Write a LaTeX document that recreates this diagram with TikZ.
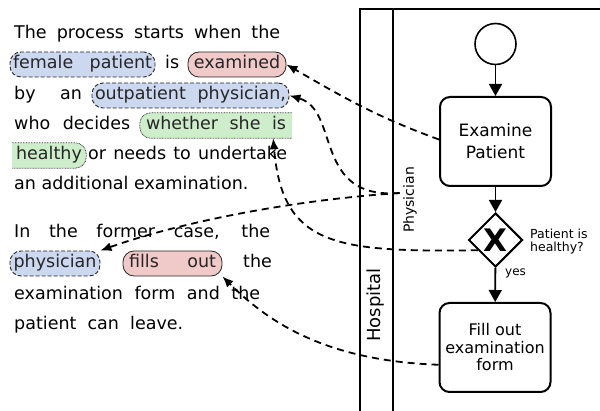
\documentclass[tikz,border=0pt]{standalone}
\usepackage{fontspec}
\setmainfont{DejaVu Sans}
\usepackage{tikz}
\usetikzlibrary{positioning}
\usetikzlibrary{shapes}
\usetikzlibrary{arrows.meta}
\definecolor{bleusurl}{HTML}{CCD8F0}
\definecolor{rougesurl}{HTML}{F0C9C9}
\definecolor{vertsurl}{HTML}{CDEDCB}
\pgfdeclarelayer{fond}
\pgfsetlayers{fond,main}

\begin{document}
\begin{tikzpicture}[x=1pt,y=1pt]
% définition des paramètres
\tikzstyle texteligne=[anchor=base west,inner sep=0pt,font=\fontsize{17.5}{21}\selectfont]
\tikzstyle surligne=[anchor=base,rounded corners=11pt,inner xsep=3pt,inner ysep=4pt,text height=13pt,text depth=4pt,font=\fontsize{17.5}{21}\selectfont,text=black!85]
\tikzstyle surlignebleu=[surligne,fill=bleusurl,draw=black!85,line width=0.9pt,dash pattern=on 4pt off 2pt]
\tikzstyle surlignerouge=[surligne,fill=rougesurl,draw=black!85,line width=0.8pt]
\tikzstyle surlignevert=[surligne]
\tikzstyle fondvert=[fill=vertsurl,draw=black!75,line width=0.8pt,dash pattern=on 0.8pt off 0.8pt,rounded corners=11pt]
\tikzstyle tache=[draw,line width=2pt,rounded corners=10pt,align=center,minimum width=111pt,minimum height=89pt]
\tikzstyle passerelle=[draw,diamond,aspect=1,line width=2pt,minimum size=54pt,inner sep=0pt]
\tikzstyle debut=[draw,circle,line width=1.6pt,minimum size=41pt,inner sep=0pt]
\tikzstyle flux=[line width=1.8pt,-{Triangle[length=12pt,width=13pt]}]
\tikzstyle lien=[line width=1.8pt,dash pattern=on 7pt off 5pt,-{Latex[length=11pt,width=9pt]}]
\tikzstyle couloir=[line width=1.8pt]
\newcommand{\margetexte}{14} % bord gauche du texte
\newcommand{\xcouloir}{360}  % bord gauche du pool
\newcommand{\xlane}{393}     % séparation du couloir

\useasboundingbox (0,0) rectangle (600,-411);

% le texte
\node[texteligne] (l1) at (\margetexte,-39) {\makebox[266pt][s]{The process starts when the}};
\node[surlignebleu,minimum width=145pt] (fp) at (82.5,-69) {\makebox[139pt][s]{female patient}};
\node[texteligne] (l2) at (165,-69) {is};
\node[surlignerouge,minimum width=98pt] (exam) at (237,-69) {examined};
\node[texteligne] (l3a) at (\margetexte,-100) {by};
\node[texteligne] (l3b) at (60,-100) {an};
\node[surlignebleu,minimum width=197pt] (op) at (190.5,-100) {\makebox[191pt][s]{outpatient physician,}};
\node[texteligne] (l4) at (\margetexte,-130) {\makebox[116pt][s]{who decides}};
\node[surlignevert,minimum width=152pt] (wh) at (216,-130) {\makebox[140pt][s]{whether she is}};
\node[surlignevert,minimum width=74pt] (hy) at (49,-160) {healthy};
\node[texteligne] (l5) at (88,-160) {\makebox[199pt][s]{or needs to undertake}};
\node[texteligne] (l6) at (\margetexte,-190) {an additional examination.};
\node[texteligne] (l7) at (\margetexte,-238) {\makebox[256pt][s]{In the former case, the}};
\node[surlignebleu,minimum width=90pt] (ph) at (55,-268) {physician};
\node[surlignerouge,minimum width=99pt] (fl) at (172.5,-268) {\makebox[87pt][s]{fills out}};
\node[texteligne] (l8) at (243,-268) {the};
\node[texteligne] (l9) at (\margetexte,-300) {\makebox[246pt][s]{examination form and the}};
\node[texteligne] (l10) at (\margetexte,-330) {\makebox[169pt][s]{patient can leave.}};
% le fond vert sur deux lignes
\begin{pgfonlayer}{fond}
\path[fondvert] (wh.north east) -- (wh.north west) -- (wh.south west) -- (wh.south east);
\path[fondvert] (hy.north west) -- (hy.north east) -- (hy.south east) -- (hy.south west);
\end{pgfonlayer}

% le pool
\draw[couloir] (\xcouloir,-411) -- (\xcouloir,-9) -- (600,-9);
\draw[couloir] (\xlane,-9) -- (\xlane,-411);
\node[rotate=90,font=\fontsize{18}{18}\selectfont] (hosp) at (376,-305) {Hospital};
\node[rotate=90,font=\fontsize{14}{14}\selectfont] (physlbl) at (410,-200) {Physician};

% le processus
\node[debut] (dep) at (495.5,-44) {};
\node[tache,font=\fontsize{17}{22}\selectfont] (ex) at (495.5,-141.5) {Examine\\Patient};
\node[passerelle,font=\fontsize{31}{31}\selectfont\bfseries] (gw) at (495.5,-240) {X};
\node[tache,font=\fontsize{16}{17.5}\selectfont] (fo) at (495,-347.5) {Fill out\\examination\\form};
\node[anchor=west,align=left,inner sep=0pt,font=\fontsize{12.5}{13}\selectfont] (cond) at (530,-241.5) {Patient is\\healthy?};
\node[anchor=west,inner sep=0pt,font=\fontsize{12}{12}\selectfont] (oui) at (505,-273) {yes};
\draw[flux] (dep) -- (ex);
\draw[flux] (ex) -- (gw);
\draw[flux] (gw) -- (fo);

% les liens texte - modèle
\coordinate (physdep) at ([yshift=7pt]physlbl.north);
\draw[lien] (ex.178) to[out=160,in=-30] (exam.east);
\draw[lien] (physdep) .. controls +(-87,-7) and +(51,-15) .. (op.east);
\draw[lien] (physdep) .. controls +(-120,-8) and +(70,25) .. (ph.north east);
\draw[lien] (gw.210) .. controls +(-143,-2) and +(9,-108) .. ([xshift=-19pt]wh.south east);
\draw[lien] (fo.197) .. controls +(-110,4) and +(48,-48) .. (fl.south east);
\end{tikzpicture}
\end{document}
